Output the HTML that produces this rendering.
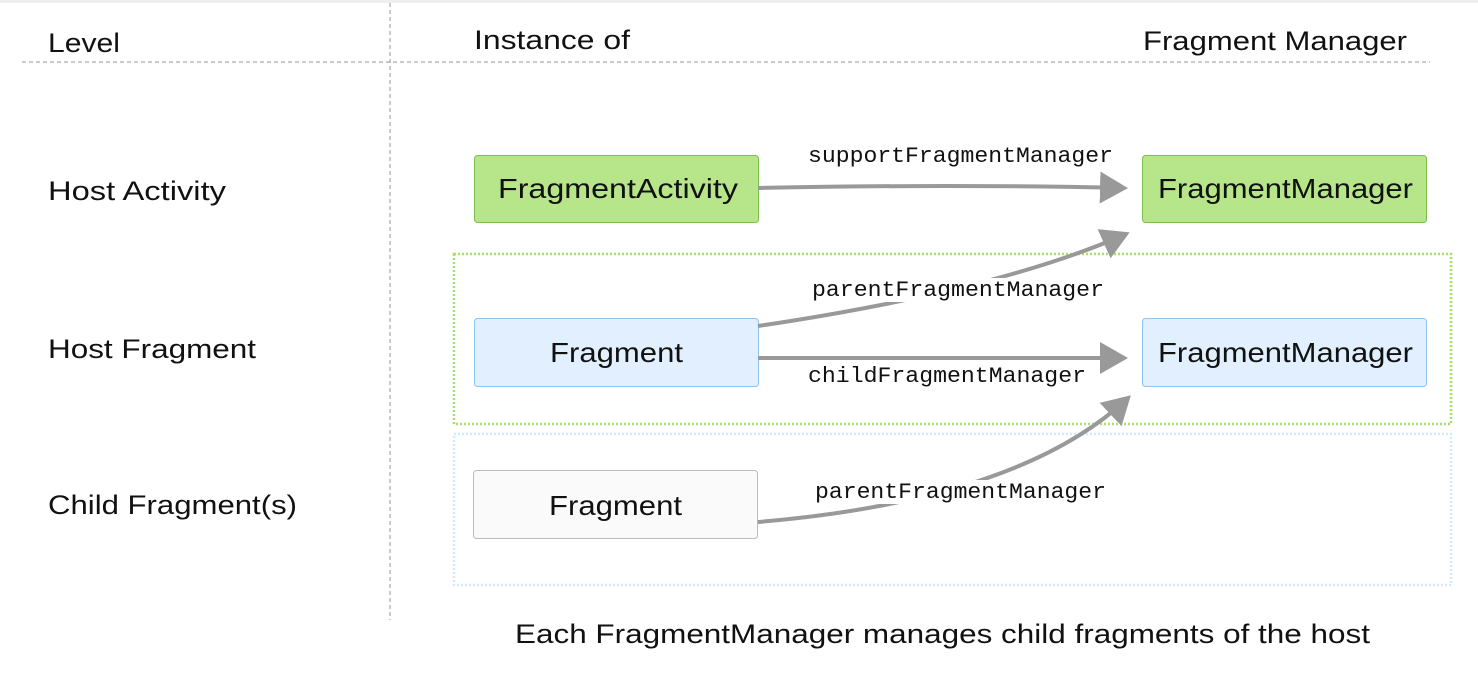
<!DOCTYPE html>
<html><head><meta charset="utf-8"><style>
html,body{margin:0;padding:0;background:#fff;}
svg{display:block}
.t{font-family:"Liberation Sans",sans-serif;fill:#111;}
.m{font-family:"Liberation Mono",monospace;font-size:22px;fill:#111;}
</style></head><body>
<svg width="1478" height="692" viewBox="0 0 1478 692" xmlns="http://www.w3.org/2000/svg">
<defs>
<marker id="ah" markerWidth="8" markerHeight="8" refX="6" refY="4" orient="auto" markerUnits="strokeWidth">
<path d="M0,0 L7,4 L0,8 z" fill="#999"/></marker>
</defs>
<rect x="0" y="0" width="1478" height="3" fill="#eee"/>
<line x1="390" y1="3" x2="390" y2="620" stroke="#aaa" stroke-width="1.2" stroke-dasharray="4,3"/>
<line x1="22" y1="62" x2="1430" y2="62" stroke="#aaa" stroke-width="1.2" stroke-dasharray="4,3"/>
<text class="t" x="48" y="52" font-size="27" textLength="72" lengthAdjust="spacingAndGlyphs">Level</text>
<text class="t" x="474" y="49" font-size="27" textLength="156" lengthAdjust="spacingAndGlyphs">Instance of</text>
<text class="t" x="1143" y="50" font-size="27" textLength="264" lengthAdjust="spacingAndGlyphs">Fragment Manager</text>
<text class="t" x="48" y="200" font-size="27" textLength="178" lengthAdjust="spacingAndGlyphs">Host Activity</text>
<text class="t" x="48" y="358" font-size="27" textLength="208" lengthAdjust="spacingAndGlyphs">Host Fragment</text>
<text class="t" x="48" y="514" font-size="27" textLength="249" lengthAdjust="spacingAndGlyphs">Child Fragment(s)</text>

<rect x="454" y="254" width="997" height="170" fill="none" stroke="#a6e06a" stroke-width="2.5" stroke-dasharray="2,2"/>
<rect x="454" y="434" width="997" height="151" fill="none" stroke="#d6e8fb" stroke-width="2.5" stroke-dasharray="2,2"/>

<rect x="474.5" y="155.5" width="284" height="67" rx="3" fill="#b7e68a" stroke="#7cbf4b"/>
<rect x="1142.5" y="155.5" width="284" height="67" rx="3" fill="#b7e68a" stroke="#7cbf4b"/>
<rect x="474.5" y="318.5" width="284" height="68" rx="3" fill="#e1effe" stroke="#8fc3f0"/>
<rect x="1142.5" y="318.5" width="284" height="68" rx="3" fill="#e1effe" stroke="#8fc3f0"/>
<rect x="473.5" y="470.5" width="284" height="68" rx="3" fill="#fafafa" stroke="#bbb"/>

<text class="t" x="498" y="198" font-size="28" textLength="240" lengthAdjust="spacingAndGlyphs">FragmentActivity</text>
<text class="t" x="1158" y="198" font-size="28" textLength="255" lengthAdjust="spacingAndGlyphs">FragmentManager</text>
<text class="t" x="550" y="362" font-size="28" textLength="133" lengthAdjust="spacingAndGlyphs">Fragment</text>
<text class="t" x="1158" y="362" font-size="28" textLength="255" lengthAdjust="spacingAndGlyphs">FragmentManager</text>
<text class="t" x="549" y="515" font-size="28" textLength="133" lengthAdjust="spacingAndGlyphs">Fragment</text>

<g fill="none" stroke="#999" stroke-width="4">
<path d="M758,188 Q950,184 1124,188" marker-end="url(#ah)"/>
<path d="M758,326 Q1000,290 1126,234" marker-end="url(#ah)"/>
<path d="M758,358 L1124,358" marker-end="url(#ah)"/>
<path d="M758,522 Q1020,500 1128,398" marker-end="url(#ah)"/>
</g>
<rect x="810" y="278" width="296" height="24" fill="#fff"/>
<rect x="812" y="480" width="296" height="24" fill="#fff"/>
<text class="m" x="808" y="162" textLength="305" lengthAdjust="spacingAndGlyphs">supportFragmentManager</text>
<text class="m" x="812" y="296" textLength="292" lengthAdjust="spacingAndGlyphs">parentFragmentManager</text>
<text class="m" x="808" y="382" textLength="278" lengthAdjust="spacingAndGlyphs">childFragmentManager</text>
<text class="m" x="815" y="498" textLength="291" lengthAdjust="spacingAndGlyphs">parentFragmentManager</text>

<text class="t" x="515" y="643" font-size="27" textLength="855" lengthAdjust="spacingAndGlyphs">Each FragmentManager manages child fragments of the host</text>
</svg>
</body></html>
